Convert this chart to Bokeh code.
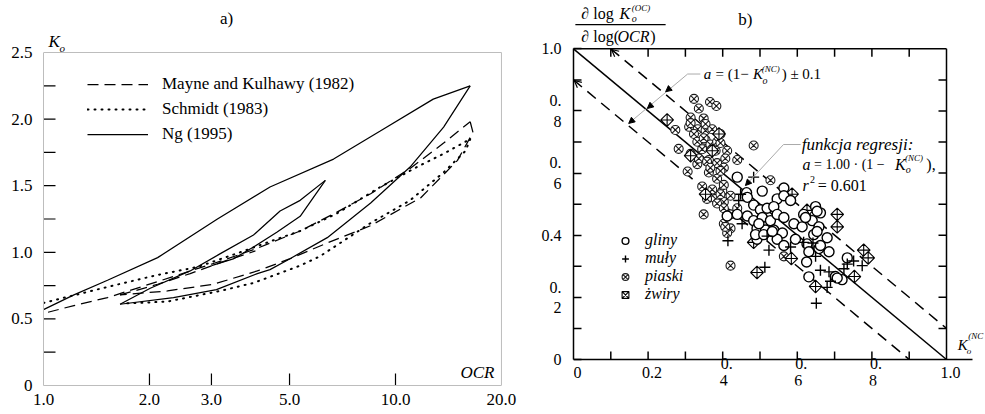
import math
from bokeh.plotting import figure
from bokeh.models import (Label, LabelSet, ColumnDataSource, Legend, LegendItem, Arrow,
                          NormalHead, OpenHead, Range1d, FixedTicker, PrintfTickFormatter)
from bokeh.layouts import row
from bokeh.embed import file_html
from bokeh.resources import INLINE
from bokeh.core.properties import value

SERIF = "Liberation Serif"

# ---------------- panel a data (OCR, Ko) ----------------
ng_up_ocr = [1.0, 1.22, 1.52, 2.11, 3.12, 4.4, 6.67, 9.05, 12.8, 16.3]
ng_up_k = [0.57, 0.68, 0.79, 0.96, 1.25, 1.49, 1.70, 1.91, 2.15, 2.25]
ng_rl_ocr = [16.3, 13.7, 11.0, 8.5, 6.4, 5.0, 4.4, 4.05, 3.1, 2.34, 1.65]
ng_rl_k = [2.25, 1.94, 1.64, 1.37, 1.11, 0.95, 0.87, 0.84, 0.72, 0.66, 0.61]
ng_s_up_ocr = [1.65, 2.01, 2.61, 3.18, 3.95, 4.7, 5.36, 6.32]
ng_s_up_k = [0.61, 0.73, 0.86, 0.99, 1.13, 1.31, 1.39, 1.54]
ng_s_rl_ocr = [6.32, 5.36, 4.6, 3.95, 3.46, 3.0]
ng_s_rl_k = [1.54, 1.27, 1.15, 1.04, 0.95, 0.90]

m_up_ocr = [1.03, 1.22, 1.52, 2.11, 2.61, 3.24, 4.05, 4.7, 5.36, 6.8, 8.5, 11.0, 13.7, 15.6, 16.3]
m_up_k = [0.55, 0.60, 0.66, 0.78, 0.86, 0.94, 1.03, 1.10, 1.16, 1.30, 1.44, 1.63, 1.82, 1.94, 1.98]
m_rl_ocr = [16.3, 16.6, 15.0, 11.8, 8.5, 6.4, 5.0, 4.05, 3.04, 2.25, 1.65]
m_rl_k = [1.98, 1.90, 1.69, 1.41, 1.20, 1.07, 0.95, 0.86, 0.76, 0.71, 0.68]
m_s_ocr = [1.65, 2.11, 2.61, 3.24, 4.0]
m_s_k = [0.68, 0.76, 0.84, 0.93, 1.01]

s_up_ocr = [1.0, 1.52, 2.11, 2.74, 3.62, 4.5, 5.36, 6.8, 9.05, 11.5, 13.7, 16.3]
s_up_k = [0.62, 0.74, 0.83, 0.89, 1.00, 1.09, 1.16, 1.29, 1.49, 1.64, 1.74, 1.85]
s_rl_ocr = [16.3, 15.8, 13.7, 11.0, 8.5, 6.1, 5.36, 3.95, 3.18, 2.25, 1.67]
s_rl_k = [1.85, 1.76, 1.60, 1.39, 1.22, 0.97, 0.90, 0.77, 0.71, 0.63, 0.615]

a_xmin, a_xmax = 1, 20
a_ymin, a_ymax = 0, 2.5
a_xtick_vals = [1, 2, 3, 5, 10, 20]
a_xtick_marks = [2, 3, 5, 10]
a_ytick_vals = [0, 0.5, 1.0, 1.5, 2.0, 2.5]
a_ytick_marks = [0.25, 0.5, 0.75, 1.0, 1.25, 1.5, 1.75, 2.0, 2.25]

# ---------------- panel b data (Ko(NC), dlogKo/dlogOCR) ----------------
piaski_x = [0.323, 0.366, 0.383, 0.336, 0.314, 0.349, 0.310, 0.333, 0.354, 0.273, 0.323, 0.332,
            0.354, 0.367, 0.385, 0.345, 0.381, 0.412, 0.439, 0.282, 0.483, 0.363, 0.332, 0.385,
            0.306, 0.403, 0.363, 0.385, 0.528, 0.345, 0.372, 0.399, 0.381, 0.403, 0.421, 0.349,
            0.439, 0.314, 0.354, 0.372, 0.394, 0.349, 0.394, 0.314, 0.336, 0.358, 0.407, 0.367,
            0.394, 0.403, 0.358, 0.385, 0.403, 0.421, 0.403, 0.421, 0.412, 0.394, 0.407, 0.421,
            0.564]
piaski_y = [0.839, 0.829, 0.816, 0.808, 0.779, 0.776, 0.749, 0.741, 0.737, 0.739, 0.726, 0.701,
            0.707, 0.692, 0.701, 0.677, 0.672, 0.672, 0.642, 0.678, 0.689, 0.642, 0.629, 0.632,
            0.605, 0.617, 0.602, 0.582, 0.577, 0.557, 0.547, 0.542, 0.517, 0.507, 0.527, 0.467,
            0.487, 0.761, 0.758, 0.741, 0.726, 0.712, 0.697, 0.662, 0.647, 0.637, 0.647, 0.617,
            0.607, 0.562, 0.517, 0.502, 0.487, 0.467, 0.437, 0.422, 0.407, 0.532, 0.427, 0.302,
            0.332]
gliny_x = [0.439, 0.506, 0.464, 0.564, 0.412, 0.466, 0.483, 0.501, 0.519, 0.546, 0.564, 0.582,
           0.537, 0.466, 0.483, 0.506, 0.528, 0.546, 0.564, 0.591, 0.613, 0.492, 0.515, 0.537,
           0.560, 0.492, 0.546, 0.595, 0.564, 0.617, 0.649, 0.662, 0.640, 0.658, 0.680, 0.644,
           0.626, 0.685, 0.658, 0.734, 0.439, 0.497, 0.488, 0.510, 0.533, 0.622, 0.653, 0.662,
           0.631, 0.625, 0.631, 0.702, 0.720, 0.653, 0.707]
gliny_y = [0.587, 0.542, 0.537, 0.552, 0.462, 0.522, 0.497, 0.482, 0.487, 0.517, 0.527, 0.512,
           0.492, 0.462, 0.447, 0.457, 0.447, 0.467, 0.457, 0.437, 0.427, 0.422, 0.417, 0.417,
           0.407, 0.387, 0.387, 0.387, 0.367, 0.467, 0.492, 0.472, 0.447, 0.427, 0.392, 0.402,
           0.372, 0.347, 0.357, 0.327, 0.467, 0.437, 0.402, 0.402, 0.412, 0.457, 0.412, 0.367,
           0.347, 0.314, 0.266, 0.267, 0.257, 0.477, 0.262]
muly_x = [0.483, 0.448, 0.443, 0.452, 0.414, 0.524, 0.617, 0.642, 0.519, 0.513, 0.649, 0.662,
          0.685, 0.689, 0.680, 0.734, 0.751, 0.774, 0.725, 0.651, 0.582]
muly_y = [0.587, 0.532, 0.512, 0.437, 0.382, 0.352, 0.377, 0.375, 0.397, 0.297, 0.332, 0.287,
          0.282, 0.252, 0.232, 0.307, 0.317, 0.302, 0.292, 0.181, 0.362]
zwiry_x = [0.251, 0.314, 0.372, 0.390, 0.354, 0.707, 0.707, 0.626, 0.586, 0.778, 0.790, 0.483,
           0.584, 0.753, 0.649, 0.492]
zwiry_y = [0.771, 0.656, 0.672, 0.726, 0.532, 0.467, 0.427, 0.480, 0.532, 0.352, 0.327, 0.377,
           0.325, 0.267, 0.235, 0.280]

reg_coef = 1.00
band = 0.1
b_xmax = 1.0
b_axis_end = 1.0697
b_odd_ticks = [0.1, 0.3, 0.5, 0.7, 0.9]
b_all_ticks = [0.1, 0.2, 0.3, 0.4, 0.5, 0.6, 0.7, 0.8, 0.9]
b_tick_vals = [0, 0.2, 0.4, 0.6, 0.8, 1.0]
b_x_line1 = ["0", "0.2", "0.", "0.", "0.", "1.0"]
b_x_line2 = ["", "", "4", "6", "8", ""]
b_y_labels = ["0", "0.\n2", "0.4", "0.\n6", "0.\n8", "1.0"]


def lab(p, x, y, text, size=16, italic=False, align="left", baseline="middle", units="data"):
    p.add_layout(Label(x=x, y=y, x_units=units, y_units=units, text=text,
                       text_font=SERIF, text_font_size=f"{size}px",
                       text_font_style="italic" if italic else "normal",
                       text_align=align, text_baseline=baseline, text_color="black"))


GRAY = "#bdbdbd"
H = 414
# ================= panel a =================
pa = figure(width=518, height=H, x_axis_type="log",
            x_range=Range1d(a_xmin, 10 ** (475 / 352)), y_range=Range1d(a_ymin, 385 / 133.2),
            output_backend="svg", toolbar_location=None,
            min_border_left=43, min_border_right=0, min_border_top=0, min_border_bottom=29)
pa.xgrid.visible = False
pa.ygrid.visible = False
pa.outline_line_color = None
pa.background_fill_color = "white"
pa.border_fill_color = "white"

xa = pa.xaxis[0]
xa.ticker = FixedTicker(ticks=a_xtick_vals)
xa.formatter = PrintfTickFormatter(format="%.1f")
xa.bounds = (a_xmin, a_xmax)
ya = pa.yaxis[0]
ya.ticker = FixedTicker(ticks=a_ytick_vals)
ya.formatter = PrintfTickFormatter(format="%.1f")
ya.major_label_overrides = {0: "0"}
ya.bounds = (a_ymin, a_ymax)
for ax in (xa, ya):
    ax.major_tick_in = 0
    ax.major_tick_out = 0
    ax.minor_tick_line_color = None
    ax.axis_line_color = GRAY
    ax.axis_line_width = 1
    ax.major_label_text_font = SERIF
    ax.major_label_text_font_size = "17px"
    ax.major_label_text_color = "black"
xa.major_label_standoff = 8
ya.major_label_standoff = 11

# top and right sides of the box
pa.line([a_xmin, a_xmax], [a_ymax, a_ymax], line_color=GRAY, line_width=1)
pa.line([a_xmax, a_xmax], [a_ymin, a_ymax], line_color=GRAY, line_width=1)

DASH = "11 6"
DOT = "1 6"
lw = 1.25
m1 = pa.line(m_up_ocr, m_up_k, line_color="black", line_width=lw, line_dash=DASH)
pa.line(m_rl_ocr, m_rl_k, line_color="black", line_width=lw, line_dash=DASH)
pa.line(m_s_ocr, m_s_k, line_color="black", line_width=lw, line_dash=DASH)
s1 = pa.line(s_up_ocr, s_up_k, line_color="black", line_width=2.0, line_dash=DOT, line_cap="round")
pa.line(s_rl_ocr, s_rl_k, line_color="black", line_width=2.0, line_dash=DOT, line_cap="round")
n1 = pa.line(ng_up_ocr, ng_up_k, line_color="black", line_width=lw)
pa.line(ng_rl_ocr, ng_rl_k, line_color="black", line_width=lw)
pa.line(ng_s_up_ocr, ng_s_up_k, line_color="black", line_width=lw)
pa.line(ng_s_rl_ocr, ng_s_rl_k, line_color="black", line_width=lw)

# inner tick marks
pa.ray(x=[a_xmin] * len(a_ytick_marks), y=a_ytick_marks, length=12, length_units="screen",
       angle=0, line_color="black", line_width=1.2)
pa.ray(x=a_xtick_marks, y=[a_ymin] * len(a_xtick_marks), length=12, length_units="screen",
       angle=math.pi / 2, line_color="black", line_width=1.2)

leg_a = Legend(items=[LegendItem(label="Mayne and Kulhawy (1982)", renderers=[m1]),
                      LegendItem(label="Schmidt (1983)", renderers=[s1]),
                      LegendItem(label="Ng (1995)", renderers=[n1])],
               location=(44, 241), glyph_width=61, glyph_height=20, label_height=20,
               spacing=5, padding=5, label_standoff=14, border_line_color=None,
               background_fill_alpha=0, label_text_font=SERIF, label_text_font_size="17px",
               label_text_color="black")
pa.add_layout(leg_a)

lab(pa, 183, 367, "a)", 17, align="center", units="screen")
lab(pa, 5, 344, "K", 17, italic=True, units="screen")
lab(pa, 16, 338, "o", 11, italic=True, units="screen")
lab(pa, 417, 13, "OCR", 17, italic=True, units="screen")

# ================= panel b =================
pb = figure(width=467, height=H, x_range=Range1d(0, 412 / 373),
            y_range=Range1d(-28 / 334, 386 / 334),
            output_backend="svg", toolbar_location=None,
            min_border_left=55, min_border_right=0, min_border_top=0, min_border_bottom=0)
pb.xgrid.visible = False
pb.ygrid.visible = False
pb.outline_line_color = None
pb.xaxis.visible = False
yb = pb.yaxis[0]
yb.ticker = FixedTicker(ticks=b_tick_vals)
yb.major_label_overrides = dict(zip(b_tick_vals, b_y_labels))
yb.bounds = (0, b_xmax)
yb.major_tick_in = 8
yb.major_tick_out = 0
yb.minor_tick_line_color = None
yb.axis_line_width = 1.5
yb.major_tick_line_width = 1.5
yb.axis_line_color = "black"
yb.major_label_standoff = 12
yb.major_label_text_font = SERIF
yb.major_label_text_font_size = "16px"
yb.major_label_text_color = "black"

# remaining box sides and inner ticks
pb.segment(x0=[0, 0, b_xmax], y0=[0, 1.0, 0], x1=[b_axis_end, b_xmax, b_xmax], y1=[0, 1.0, 1.0],
           line_color="black", line_width=1.5)
pb.ray(x=[b_xmax] * len(b_all_ticks), y=b_all_ticks, length=8, length_units="screen",
       angle=math.pi, line_color="black", line_width=1.5)
pb.ray(x=[0] * len(b_odd_ticks), y=b_odd_ticks, length=8, length_units="screen",
       angle=0, line_color="black", line_width=1.5)
pb.ray(x=b_all_ticks, y=[0] * len(b_all_ticks), length=8, length_units="screen",
       angle=math.pi / 2, line_color="black", line_width=1.5)
pb.ray(x=b_all_ticks, y=[1.0] * len(b_all_ticks), length=8, length_units="screen",
       angle=-math.pi / 2, line_color="black", line_width=1.5)

# regression line and +/- band
k_line = [0.0, b_xmax]
k_up = [band, b_xmax]
k_lo = [0.0, b_xmax - band]
pb.line(k_line, [reg_coef * (1 - k) for k in k_line], line_color="black", line_width=1.5)
pb.line(k_up, [reg_coef * (1 - k) + band for k in k_up], line_color="black", line_width=1.5,
        line_dash="11 7")
pb.line(k_lo, [reg_coef * (1 - k) - band for k in k_lo], line_color="black", line_width=1.5,
        line_dash="11 7")
# small arrowheads at the upper-left ends of the band lines
for x0, y0 in [(k_up[0], reg_coef * (1 - k_up[0]) + band), (k_lo[0], reg_coef * (1 - k_lo[0]) - band)]:
    pb.add_layout(Arrow(end=OpenHead(size=7, line_color="black", line_width=1.2),
                        x_start=x0 + 0.03, y_start=y0 - 0.03, x_end=x0 + 0.002, y_end=y0 - 0.002,
                        line_alpha=0))

r_p = pb.scatter(piaski_x, piaski_y, marker="circle_x", size=9, fill_color="white",
                 line_color="#1a1a1a", line_width=1.1)
r_z = pb.scatter(zwiry_x, zwiry_y, marker="square_x", size=9, angle=math.pi / 4,
                 fill_color="white", line_color="black", line_width=1.1)
r_g = pb.scatter(gliny_x, gliny_y, marker="circle", size=10, fill_color="white",
                 line_color="black", line_width=1.4)
r_m = pb.scatter(muly_x, muly_y, marker="cross", size=11, line_color="black", line_width=1.4)

leg_b = Legend(items=[LegendItem(label="gliny", renderers=[r_g]),
                      LegendItem(label="muły", renderers=[r_m]),
                      LegendItem(label="piaski", renderers=[r_p]),
                      LegendItem(label="żwiry", renderers=[r_z])],
               location=(42, 82), glyph_width=20, glyph_height=17, label_height=17,
               spacing=0, padding=0, label_standoff=10, border_line_color=None,
               background_fill_alpha=0, label_text_font=SERIF, label_text_font_size="16px",
               label_text_font_style="italic", label_text_color="black")
pb.add_layout(leg_b)

# x tick labels (wrapped as in the original)
pb.add_layout(LabelSet(x="x", y="y", text="t",
                       source=ColumnDataSource(dict(x=b_tick_vals, y=[0] * 6, t=b_x_line1,
                                                    yo=[-13 if s == "" else -4 for s in b_x_line2])),
                       x_offset=4, y_offset="yo", text_align="center", text_baseline="middle",
                       text_font=value(SERIF), text_font_size="16px", text_color="black"))
pb.add_layout(LabelSet(x="x", y="y", text="t",
                       source=ColumnDataSource(dict(x=b_tick_vals, y=[0] * 6, t=b_x_line2)),
                       x_offset=1, y_offset=-21, text_align="center", text_baseline="middle",
                       text_font=value(SERIF), text_font_size="16px", text_color="black"))

# axis title (fraction)
lab(pb, 0.021, 1.113, "∂ log", 16)
lab(pb, 0.123, 1.113, "K", 16, italic=True)
lab(pb, 0.156, 1.132, "(OC)", 9, italic=True)
lab(pb, 0.156, 1.097, "o", 10, italic=True)
pb.line([0.005, 0.247], [1.078, 1.078], line_color="black", line_width=1.2)
lab(pb, 0.021, 1.041, "∂ log(", 16)
lab(pb, 0.118, 1.041, "OCR", 16, italic=True)
lab(pb, 0.206, 1.041, ")", 16)
lab(pb, 0.461, 1.096, "b)", 17, align="center")
lab(pb, 1.030, 0.048, "K", 15, italic=True)
lab(pb, 1.054, 0.027, "o", 9, italic=True)
lab(pb, 1.058, 0.075, "(NC", 9, italic=True)

# annotation 1: band
pb.line([0.340, 0.306, 0.148], [0.919, 0.919, 0.760], line_color="#aaaaaa", line_width=1)
for tx, ty in [(0.247, 0.862), (0.198, 0.808), (0.148, 0.760)]:
    pb.add_layout(Arrow(end=NormalHead(size=6, fill_color="black", line_color="black"),
                        x_start=0.306, y_start=0.919, x_end=tx, y_end=ty, line_alpha=0))
lab(pb, 0.349, 0.919, "a", 15, italic=True)
lab(pb, 0.381, 0.919, "= (1−", 15)
lab(pb, 0.481, 0.919, "K", 15, italic=True)
lab(pb, 0.505, 0.936, "(NC)", 9, italic=True)
lab(pb, 0.507, 0.899, "o", 10, italic=True)
lab(pb, 0.558, 0.919, ") ± 0.1", 15)

# annotation 2: regression
pb.line([0.609, 0.563, 0.461], [0.692, 0.692, 0.560], line_color="#aaaaaa", line_width=1)
pb.add_layout(Arrow(end=NormalHead(size=6, fill_color="black", line_color="black"),
                    x_start=0.563, y_start=0.692, x_end=0.461, y_end=0.560, line_alpha=0))
lab(pb, 0.612, 0.692, "funkcja regresji:", 17, italic=True)
lab(pb, 0.614, 0.629, "a", 16, italic=True)
lab(pb, 0.645, 0.629, "= 1.00 · (1 −", 14)
lab(pb, 0.862, 0.629, "K", 16, italic=True)
lab(pb, 0.889, 0.650, "(NC)", 9, italic=True)
lab(pb, 0.891, 0.612, "o", 10, italic=True)
lab(pb, 0.946, 0.629, "),", 16)
lab(pb, 0.614, 0.560, "r", 16, italic=True)
lab(pb, 0.634, 0.578, "2", 10)
lab(pb, 0.655, 0.560, "= 0.601", 16)

layout = row(pa, pb)
open("out.html", "w").write(file_html(layout, INLINE))
